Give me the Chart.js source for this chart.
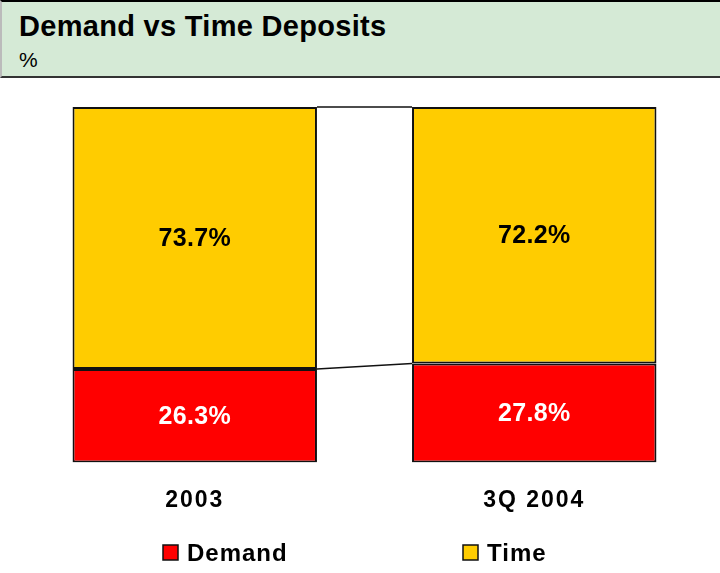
<!DOCTYPE html>
<html>
<head>
<meta charset="utf-8">
<script src="https://cdn.jsdelivr.net/npm/chart.js@4/dist/chart.umd.min.js"></script>
<style>
  html, body { margin: 0; padding: 0; background: #fff; }
  #wrap { position: relative; width: 720px; height: 573px; }
  #head {
    position: absolute; left: 0; top: 0; width: 718px; height: 74px;
    background: #d5ead6; border-top: 2px solid #000; border-bottom: 2px solid #333;
    border-left: 2px solid #bbb;
    font-family: "Liberation Sans", Arial, sans-serif; color: #000;
  }
  #head .t { position: absolute; left: 17px; top: 8px; font-size: 29px; font-weight: bold; letter-spacing: 0.3px; }
  #head .u { position: absolute; left: 17px; top: 46px; font-size: 21px; }
  canvas { position: absolute; left: 0; top: 0; }
</style>
</head>
<body>
<div id="wrap">
  <canvas id="chart" width="720" height="573"></canvas>
  <div id="head"><div class="t">Demand vs Time Deposits</div><div class="u">%</div></div>
</div>
<script>
const categories = ['2003', '3Q 2004'];
const demand = [26.3, 27.8];
const time = [73.7, 72.2];

const FONT = '"Liberation Sans", Arial, sans-serif';

// wider spacing for the axis labels only
const spacing = {
  id: 'spacing',
  beforeDraw(chart) { chart.ctx.letterSpacing = '2px'; },
  beforeDatasetsDraw(chart) { chart.ctx.letterSpacing = '0px'; }
};

// lines joining the tops of each series between the bars
const connectors = {
  id: 'connectors',
  afterDatasetsDraw(chart) {
    const ctx = chart.ctx;
    ctx.save();
    ctx.strokeStyle = '#111';
    ctx.lineWidth = 1.5;
    chart.data.datasets.forEach((ds, i) => {
      const bars = chart.getDatasetMeta(i).data;
      for (let k = 0; k < bars.length - 1; k++) {
        const a = bars[k], b = bars[k + 1];
        ctx.beginPath();
        ctx.moveTo(a.x + a.width / 2, a.y);
        ctx.lineTo(b.x - b.width / 2, b.y);
        ctx.stroke();
      }
    });
    ctx.restore();
  }
};

const valueLabels = {
  id: 'valueLabels',
  afterDatasetsDraw(chart) {
    const ctx = chart.ctx;
    ctx.save();
    ctx.letterSpacing = '0.3px';
    ctx.font = 'bold 25px ' + FONT;
    ctx.textAlign = 'center';
    ctx.textBaseline = 'middle';
    chart.data.datasets.forEach((ds, i) => {
      chart.getDatasetMeta(i).data.forEach((bar, k) => {
        ctx.fillStyle = ds.labelColor;
        ctx.fillText(ds.data[k].toFixed(1) + '%', bar.x, (bar.y + bar.base) / 2 + 1);
      });
    });
    ctx.restore();
  }
};

const bottomLegend = {
  id: 'bottomLegend',
  afterDraw(chart) {
    const ctx = chart.ctx;
    const xs = [163, 463];
    const y = 553;
    ctx.save();
    ctx.font = 'bold 24px ' + FONT;
    ctx.letterSpacing = '1px';
    ctx.textBaseline = 'middle';
    chart.data.datasets.forEach((ds, i) => {
      ctx.fillStyle = ds.backgroundColor;
      ctx.fillRect(xs[i], y - 8, 15, 15);
      ctx.strokeStyle = '#111';
      ctx.lineWidth = 1.5;
      ctx.strokeRect(xs[i], y - 8, 15, 15);
      ctx.fillStyle = '#000';
      ctx.fillText(ds.label, xs[i] + 24, y + 1);
    });
    ctx.restore();
  }
};

new Chart(document.getElementById('chart'), {
  type: 'bar',
  data: {
    labels: categories,
    datasets: [
      { label: 'Demand', data: demand, backgroundColor: '#ff0000', labelColor: '#fff' },
      { label: 'Time', data: time, backgroundColor: '#ffcc00', labelColor: '#000' }
    ]
  },
  options: {
    responsive: false,
    animation: false,
    layout: { padding: { left: 25, right: 16, top: 107, bottom: 35 } },
    datasets: {
      bar: {
        borderColor: '#111',
        borderWidth: 2,
        borderSkipped: false,
        barPercentage: 0.72,
        categoryPercentage: 1
      }
    },
    plugins: { legend: { display: false }, tooltip: { enabled: false } },
    scales: {
      x: {
        stacked: true,
        grid: { display: false, drawTicks: false },
        border: { display: false },
        ticks: { color: '#000', padding: 24, font: { family: FONT, size: 23, weight: 'bold' } }
      },
      y: { stacked: true, display: false, min: 0, max: 100 }
    }
  },
  plugins: [spacing, connectors, valueLabels, bottomLegend]
});
</script>
</body>
</html>
